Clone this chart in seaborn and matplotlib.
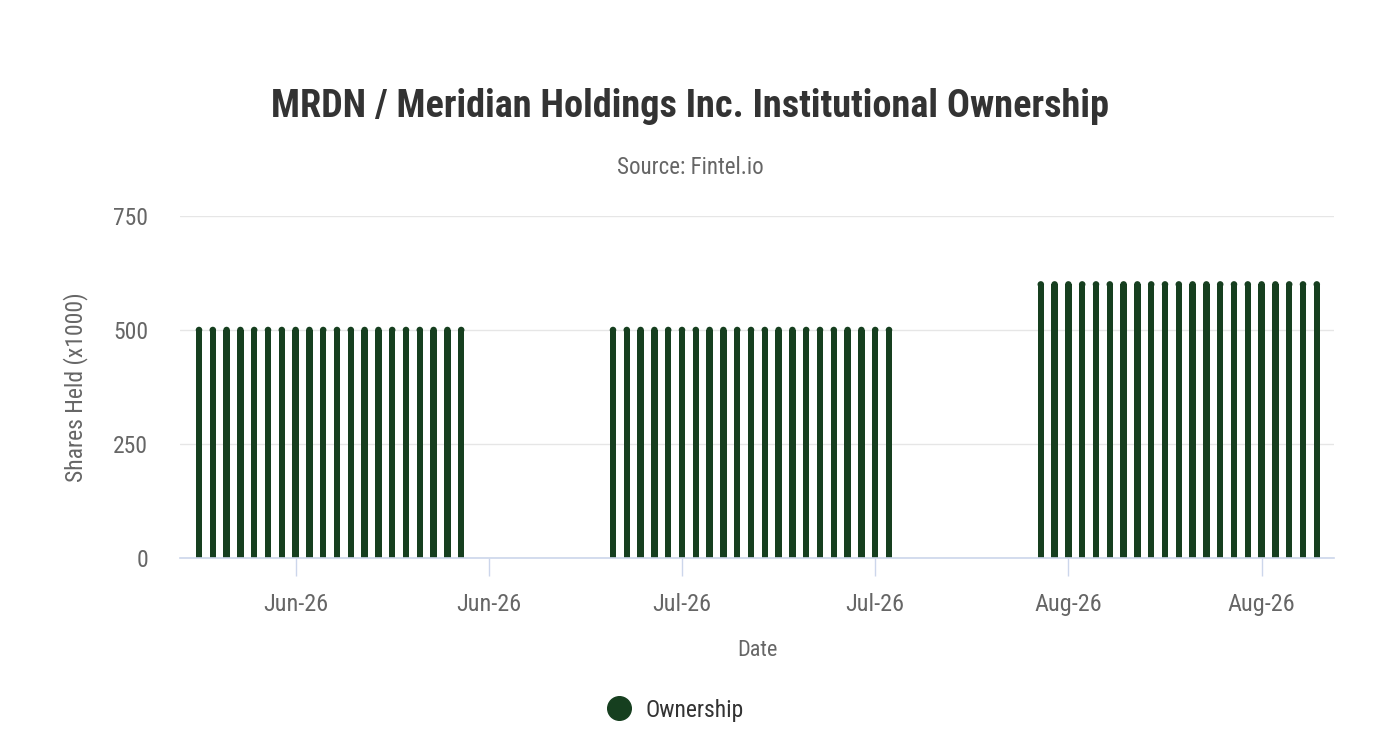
import matplotlib
matplotlib.use("Agg")
import matplotlib.pyplot as plt
import matplotlib.dates as mdates
from matplotlib import font_manager
from matplotlib.lines import Line2D
from matplotlib.ticker import FixedLocator
import pandas as pd
import seaborn as sns

# daily holdings, three reporting windows (x1000 shares)
june_dates = pd.date_range("2026-06-01", "2026-06-20", freq="D")
july_dates = pd.date_range("2026-07-01", "2026-07-21", freq="D")
aug_dates = pd.date_range("2026-08-01", "2026-08-21", freq="D")

june_shares = [500, 500, 500, 500, 500, 500, 500, 500, 500, 500,
               500, 500, 500, 500, 500, 500, 500, 500, 500, 500]
july_shares = [500, 500, 500, 500, 500, 500, 500, 500, 500, 500,
               500, 500, 500, 500, 500, 500, 500, 500, 500, 500, 500]
aug_shares = [600, 600, 600, 600, 600, 600, 600, 600, 600, 600,
              600, 600, 600, 600, 600, 600, 600, 600, 600, 600, 600]

tick_dates = pd.to_datetime(["2026-06-08", "2026-06-22", "2026-07-06",
                             "2026-07-20", "2026-08-03", "2026-08-17"])
y_ticks = [0, 250, 500, 750]

GREEN = "#163f1f"
DARK = "#333333"
GREY = "#666666"

df = pd.DataFrame({
    "date": list(june_dates) + list(july_dates) + list(aug_dates),
    "shares": june_shares + july_shares + aug_shares,
})
df["x"] = mdates.date2num(df["date"])

sns.set_theme(style="white")

# pick a narrow face if there is one
names = {f.name for f in font_manager.fontManager.ttflist}
FONT = "Roboto"
scale = 0.85
for cand in ["Roboto Condensed", "Liberation Sans Narrow", "Open Sans Condensed"]:
    if cand in names:
        FONT = cand
        scale = 1.0
        break
plt.rcParams["font.family"] = [FONT, "DejaVu Sans"]

fig = plt.figure(figsize=(13.8, 7.5), dpi=100)
ax = fig.add_axes([0.1304, 0.256, 0.8363, 0.456])

sns.barplot(data=df, x="x", y="shares", native_scale=True, width=0.47,
            color=GREEN, saturation=1, errorbar=None, ax=ax, zorder=2,
            linewidth=0)
# round caps on top of the columns
sns.scatterplot(data=df, x="x", y="shares", color=GREEN, s=22,
                edgecolor="none", legend=False, ax=ax, zorder=3)

start = mdates.date2num(june_dates[0])
ax.set_xlim(start - 1.38, start + 82.25)
ax.set_ylim(0, 750)

ax.xaxis.set_major_locator(FixedLocator(mdates.date2num(tick_dates)))
ax.xaxis.set_major_formatter(mdates.DateFormatter("%b-%y"))
ax.set_yticks(y_ticks)

ax.grid(axis="y", color="#e6e6e6", linewidth=1)
ax.grid(axis="x", visible=False)
for side in ["top", "right", "left"]:
    ax.spines[side].set_visible(False)
ax.spines["bottom"].set_color("#ccd6eb")
ax.spines["bottom"].set_linewidth(1.2)

ax.tick_params(axis="x", bottom=True, direction="out", length=13, width=1,
               color="#ccd6eb", pad=12.5, labelsize=17.5 * scale, labelcolor=GREY)
ax.tick_params(axis="y", left=False, length=0, pad=23, labelsize=17 * scale,
               labelcolor=GREY)

ax.set_xlabel("Date", fontsize=16 * scale, color=GREY, labelpad=17)
ax.set_ylabel("Shares Held (x1000)", fontsize=17 * scale, color=GREY, labelpad=18)

fig.text(0.5, 0.858, "MRDN / Meridian Holdings Inc. Institutional Ownership",
         ha="center", va="center", fontsize=27.5 * scale, fontweight="bold", color=DARK)
fig.text(0.5, 0.777, "Source: Fintel.io", ha="center", va="center",
         fontsize=16.5 * scale, color=GREY)

handle = Line2D([], [], marker="o", linestyle="", markersize=17, color=GREEN,
                label="Ownership")
fig.legend(handles=[handle], loc="center", bbox_to_anchor=(0.4896, 0.053),
           frameon=False, fontsize=17 * scale, labelcolor=DARK,
           handlelength=1.0, handletextpad=0.6)

fig.savefig("out.png", dpi=100)
